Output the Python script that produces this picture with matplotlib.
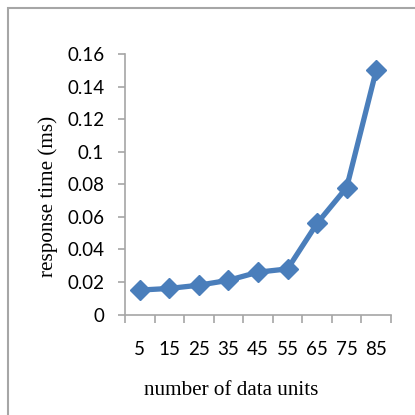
import matplotlib
matplotlib.use('Agg')
import matplotlib.pyplot as plt
from matplotlib.patches import Rectangle

# data
units = ['5', '15', '25', '35', '45', '55', '65', '75', '85']
resp_ms = [0.015, 0.016, 0.018, 0.021, 0.026, 0.028, 0.056, 0.078, 0.150]
y_ticks = [0, 0.02, 0.04, 0.06, 0.08, 0.1, 0.12, 0.14, 0.16]
y_tick_labels = ['0', '0.02', '0.04', '0.06', '0.08', '0.1', '0.12', '0.14', '0.16']

fig = plt.figure(figsize=(4.15, 4.15), dpi=100)
fig.patch.set_facecolor('white')

# light gray outer frame (cropped at right and bottom)
fig.patches.append(Rectangle((8 / 415, -0.1), 1.2, 1 - 8 / 415 + 0.1,
                             transform=fig.transFigure, fill=False,
                             edgecolor='#a6a6a6', linewidth=1.5))

ax = fig.add_axes([125 / 415, 1 - 314.5 / 415, 266 / 415, 260.5 / 415])
x = list(range(len(units)))
ax.plot(x, resp_ms, color='#4a7ebb', linewidth=3.8, marker='D',
        markersize=10, markerfacecolor='#4a7ebb', markeredgecolor='#4a7ebb',
        clip_on=False, zorder=3)

ax.set_xlim(-0.5, len(units) - 0.5)
ax.set_ylim(0, 0.16)

for s in ['top', 'right']:
    ax.spines[s].set_visible(False)
for s in ['left', 'bottom']:
    ax.spines[s].set_color('#a6a6a6')
    ax.spines[s].set_linewidth(1.2)

ax.set_xticks(x)
ax.set_xticklabels(units)
ax.set_xticks([i - 0.5 for i in range(len(units) + 1)], minor=True)
ax.tick_params(axis='x', which='major', length=0, pad=19)
ax.tick_params(axis='x', which='minor', length=6, width=1.2, color='#a6a6a6',
               direction='out')
ax.set_yticks(y_ticks)
ax.set_yticklabels(y_tick_labels)
ax.tick_params(axis='y', length=5, width=1.2, color='#a6a6a6', pad=10)

for lbl in ax.get_xticklabels() + ax.get_yticklabels():
    lbl.set_fontfamily('Lato')
    lbl.set_fontsize(13.5)
    lbl.set_color('black')

fig.text(231 / 415, 1 - 390 / 415, 'number of data units', ha='center',
         va='center', fontsize=15.2, family='Liberation Serif')
fig.text(48 / 415, 1 - 196 / 415, 'response time (ms)', ha='center',
         va='center', rotation=90, fontsize=15.2, family='Liberation Serif')

fig.savefig('out.png', dpi=100, facecolor='white')
